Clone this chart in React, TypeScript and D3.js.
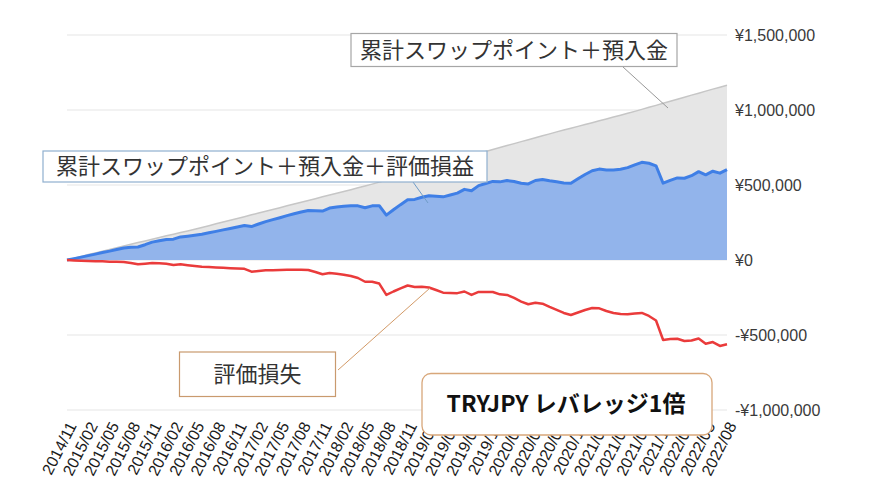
import React from "react";
import * as d3 from "d3";

// 累計スワップポイント＋預入金 (thousand yen), monthly 2014/11 .. 2022/08
const depositPlusSwap: number[] = [
  0, 12, 24, 36, 47, 59, 70, 82, 93, 105, 116, 127, 139, 150, 161, 172, 183, 194, 205, 217,
  229, 241, 253, 265, 277, 289, 301, 313, 325, 337, 349, 361, 373, 385, 397, 409, 421, 433, 445, 457,
  469, 481, 493, 506, 519, 532, 545, 558, 571, 584, 597, 611, 625, 639, 653, 667, 681, 695, 709, 723,
  737, 750, 763, 776, 789, 802, 815, 828, 841, 854, 866, 878, 891, 903, 915, 928, 940, 953, 965, 978,
  991, 1004, 1018, 1031, 1045, 1058, 1072, 1085, 1099, 1112, 1126, 1139, 1152, 1165,
];

// 評価損失 (thousand yen)
const unrealizedLoss: number[] = [
  0, -3, -5, -7, -8, -9, -11, -12, -13, -20, -29, -25, -20, -22, -25, -33, -29, -35, -40, -45,
  -47, -50, -52, -55, -57, -59, -78, -73, -69, -68, -67, -65, -65, -65, -67, -80, -95, -87, -92, -98,
  -107, -120, -145, -145, -157, -233, -210, -189, -170, -180, -179, -183, -200, -218, -220, -221, -210, -233, -213, -213,
  -213, -229, -233, -253, -277, -295, -285, -291, -313, -333, -353, -367, -350, -333, -320, -322, -340, -353, -360, -362,
  -357, -353, -373, -403, -533, -527, -525, -540, -537, -523, -558, -547, -573, -562,
];

// 累計スワップポイント＋預入金＋評価損益
const totalValue: number[] = depositPlusSwap.map((v, i) => v + unrealizedLoss[i]);

const xTickLabels: string[] = [
  "2014/11", "2015/02", "2015/05", "2015/08", "2015/11", "2016/02", "2016/05", "2016/08",
  "2016/11", "2017/02", "2017/05", "2017/08", "2017/11", "2018/02", "2018/05", "2018/08",
  "2018/11", "2019/02", "2019/05", "2019/08", "2019/11", "2020/02", "2020/05", "2020/08",
  "2020/11", "2021/02", "2021/05", "2021/08", "2021/11", "2022/02", "2022/05", "2022/08",
];

const yTickValues: number[] = [1500, 1000, 500, 0, -500, -1000];
const yTickLabels: string[] = ["¥1,500,000", "¥1,000,000", "¥500,000", "¥0", "-¥500,000", "-¥1,000,000"];

const JP = "'Noto Sans CJK JP', 'Noto Sans', sans-serif";

export default function App() {
  const W = 890;
  const H = 502;
  const n = depositPlusSwap.length;
  const x = d3.scaleLinear().domain([0, n - 1]).range([67, 727]);
  const y = d3.scaleLinear().domain([-1000, 1500]).range([410, 35]);

  const grayArea = d3.area<number>().x((_, i) => x(i)).y0(y(0)).y1((d) => y(d))(depositPlusSwap) || "";
  const grayLine = d3.line<number>().x((_, i) => x(i)).y((d) => y(d))(depositPlusSwap) || "";
  const blueArea = d3.area<number>().x((_, i) => x(i)).y0(y(0)).y1((d) => y(d))(totalValue) || "";
  const blueLine = d3.line<number>().x((_, i) => x(i)).y((d) => y(d))(totalValue) || "";
  const redLine = d3.line<number>().x((_, i) => x(i)).y((d) => y(d))(unrealizedLoss) || "";

  return (
    <svg width={W} height={H} style={{ position: "absolute", left: 0, top: 0, background: "#fff" }}>
      {/* gridlines */}
      {yTickValues.map((v) => (
        <line key={v} x1={67} x2={727} y1={y(v)} y2={y(v)} stroke="#e6e6e6" strokeWidth={1.2} />
      ))}
      {/* areas */}
      <path d={grayArea} fill="#e6e6e6" />
      <path d={grayLine} fill="none" stroke="#c6c6c6" strokeWidth={1.5} />
      <path d={blueArea} fill="#92b4eb" />
      <path d={blueLine} fill="none" stroke="#3f7fe6" strokeWidth={3} strokeLinejoin="round" />
      <path d={redLine} fill="none" stroke="#ea3b3b" strokeWidth={2.5} strokeLinejoin="round" />

      {/* y labels */}
      {yTickValues.map((v, i) => (
        <text key={v} x={735} y={y(v)} dy="0.36em" fontFamily="'Liberation Sans', Arial, sans-serif"
          fontSize={16} fill="#3a3a3a">{yTickLabels[i]}</text>
      ))}

      {/* x labels */}
      {xTickLabels.map((t, i) => {
        const xx = x(i * 3) + 5;
        const yy = 423;
        return (
          <text key={t} x={xx} y={yy} transform={`rotate(-63, ${xx}, ${yy})`} textAnchor="end"
            dy="0.35em" fontFamily="'Liberation Sans', Arial, sans-serif" fontSize={16} fill="#1a1a1a">{t}</text>
        );
      })}

      {/* annotation: deposit + swap */}
      <line x1={623} y1={67} x2={668} y2={108} stroke="#999" strokeWidth={1} />
      <rect x={351} y={33.5} width={326} height={33} fill="#fff" stroke="#a6a6a6" strokeWidth={1.2} />
      <text x={514} y={50} dy="0.36em" textAnchor="middle" fontFamily={JP} fontSize={22} fill="#333">累計スワップポイント＋預入金</text>

      {/* annotation: total */}
      <line x1={413} y1={182} x2={428} y2={203} stroke="#6f9cc8" strokeWidth={1} />
      <rect x={43} y={151} width={444} height={31} fill="#fff" stroke="#8fb0cf" strokeWidth={1.2} />
      <text x={265} y={166.5} dy="0.36em" textAnchor="middle" fontFamily={JP} fontSize={22} fill="#333">累計スワップポイント＋預入金＋評価損益</text>

      {/* annotation: loss */}
      <line x1={338} y1={370} x2={430} y2={288} stroke="#d39a67" strokeWidth={1} />
      <rect x={179.5} y={352} width={156} height={44.5} fill="#fff" stroke="#c99a6e" strokeWidth={1.2} />
      <text x={257.5} y={374} dy="0.36em" textAnchor="middle" fontFamily={JP} fontSize={22} fill="#333">評価損失</text>

      {/* title box */}
      <rect x={422} y={373.5} width={290} height={61.5} rx={9} ry={9} fill="#fff" stroke="#d8a77a" strokeWidth={1.3} />
      <text x={566} y={404} dy="0.36em" textAnchor="middle" fontFamily={JP} fontSize={23} fontWeight="bold" fill="#111">TRYJPY レバレッジ1倍</text>
    </svg>
  );
}
